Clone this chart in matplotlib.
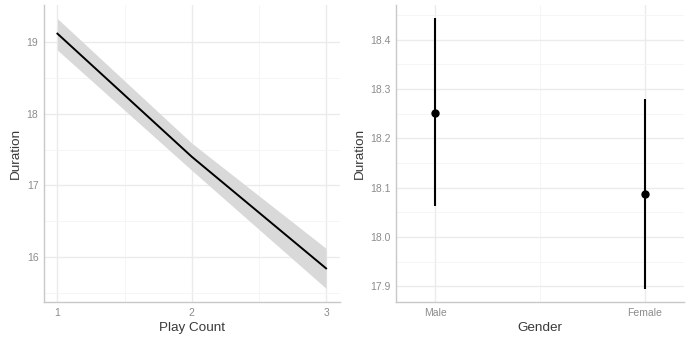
import matplotlib.pyplot as plt

plt.rcParams['font.family'] = ['Liberation Sans', 'DejaVu Sans']

# fitted duration by play count, with confidence band
play_count = [1, 2, 3]
fit_duration = [19.12, 17.40, 15.84]
band_low = [18.89, 17.21, 15.56]
band_high = [19.33, 17.59, 16.12]

# mean duration by gender, with interval
genders = ["Male", "Female"]
mean_duration = [18.252, 18.087]
ci_low = [18.063, 17.895]
ci_high = [18.443, 18.280]

W, H = 688, 337
fig = plt.figure(figsize=(W / 100, H / 100), dpi=100)

grid_major = "#EBEBEB"
grid_minor = "#F4F4F4"
axis_col = "#C8C8C8"
tick_col = "#8C8C8C"
title_col = "#3A3A3A"


def style(ax):
    for s in ["top", "right"]:
        ax.spines[s].set_visible(False)
    for s in ["left", "bottom"]:
        ax.spines[s].set_color(axis_col)
        ax.spines[s].set_linewidth(1.0)
    ax.tick_params(length=0, labelsize=7.5, labelcolor=tick_col, pad=4)
    ax.grid(True, which="major", color=grid_major, linewidth=1.0)
    ax.grid(True, which="minor", color=grid_minor, linewidth=0.6)
    ax.tick_params(which="minor", length=0)
    ax.set_axisbelow(True)


ax1 = fig.add_axes([44 / W, 35 / H, 295.5 / W, 297 / H])
ax1.fill_between(play_count, band_low, band_high, color="#D9D9D9", linewidth=0)
ax1.plot(play_count, fit_duration, color="black", linewidth=1.4)
ax1.set_xlim(0.9, 3.1)
ax1.set_ylim(15.37, 19.52)
ax1.set_xticks([1, 2, 3])
ax1.set_xticks([1.5, 2.5], minor=True)
ax1.set_yticks([16, 17, 18, 19])
ax1.set_yticks([15.5, 16.5, 17.5, 18.5], minor=True)
ax1.set_xlabel("Play Count", fontsize=9.7, color=title_col, labelpad=3)
ax1.set_ylabel("Duration", fontsize=9.7, color=title_col, labelpad=3.5)
style(ax1)

ax2 = fig.add_axes([396.3 / W, 35 / H, 287.7 / W, 297 / H])
xpos = [1, 2]
for x, lo, hi in zip(xpos, ci_low, ci_high):
    ax2.plot([x, x], [lo, hi], color="black", linewidth=1.5, solid_capstyle="butt")
ax2.plot(xpos, mean_duration, "o", color="black", markersize=5)
ax2.set_xlim(0.814, 2.186)
ax2.set_ylim(17.868, 18.470)
ax2.set_xticks(xpos)
ax2.set_xticklabels(genders)
ax2.set_xticks([1.5], minor=True)
ax2.set_yticks([17.9, 18.0, 18.1, 18.2, 18.3, 18.4])
ax2.set_yticklabels(["17.9", "18.0", "18.1", "18.2", "18.3", "18.4"])
ax2.set_yticks([17.95, 18.05, 18.15, 18.25, 18.35, 18.45], minor=True)
ax2.set_xlabel("Gender", fontsize=9.7, color=title_col, labelpad=3)
ax2.set_ylabel("Duration", fontsize=9.7, color=title_col, labelpad=3.5)
style(ax2)

fig.savefig("out.png", dpi=100)
